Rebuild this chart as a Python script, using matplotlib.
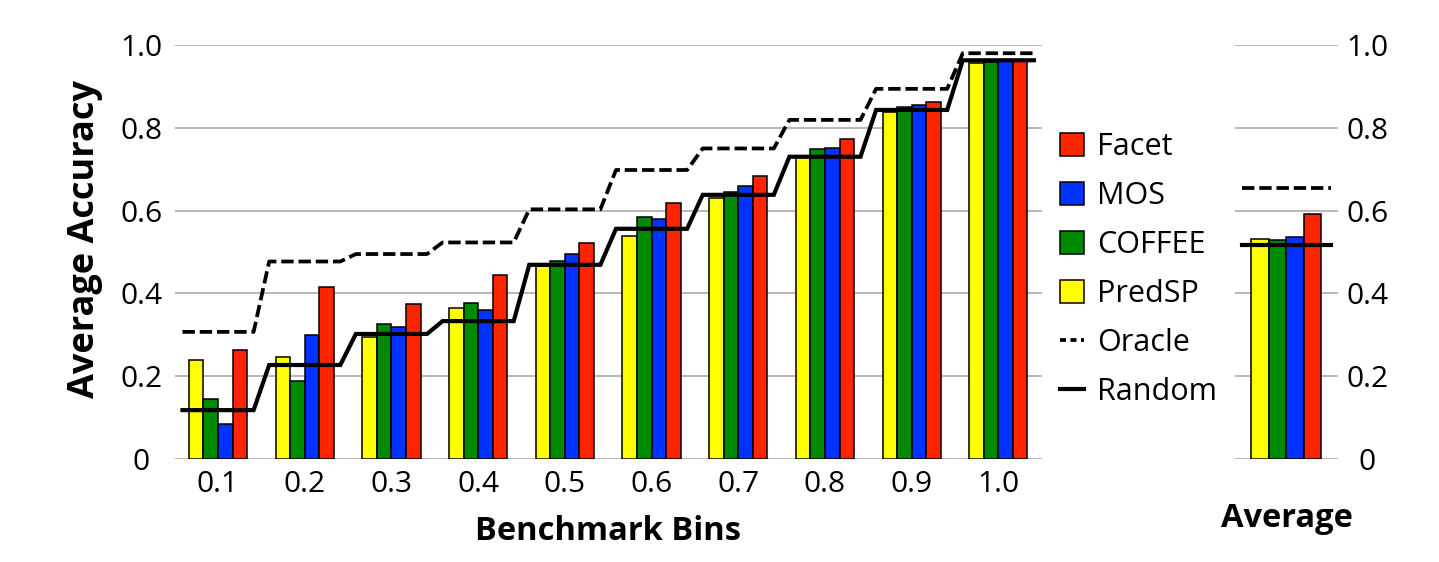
import matplotlib
matplotlib.use('Agg')
import matplotlib.pyplot as plt
import numpy as np
from matplotlib.patches import Patch
from matplotlib.lines import Line2D

plt.rcParams['font.family'] = ['Open Sans', 'DejaVu Sans']

# データ
bins = ['0.1', '0.2', '0.3', '0.4', '0.5', '0.6', '0.7', '0.8', '0.9', '1.0']
predsp = [0.239, 0.247, 0.294, 0.365, 0.466, 0.539, 0.631, 0.729, 0.839, 0.957]
coffee = [0.145, 0.189, 0.325, 0.376, 0.478, 0.585, 0.646, 0.749, 0.851, 0.960]
mos = [0.085, 0.300, 0.318, 0.361, 0.495, 0.580, 0.659, 0.750, 0.855, 0.964]
facet = [0.263, 0.416, 0.374, 0.444, 0.522, 0.619, 0.684, 0.773, 0.863, 0.964]
oracle = [0.307, 0.477, 0.495, 0.523, 0.603, 0.698, 0.750, 0.819, 0.894, 0.980]
random_ = [0.118, 0.227, 0.302, 0.333, 0.469, 0.556, 0.638, 0.730, 0.843, 0.963]

# 平均
avg_bars = [0.531, 0.530, 0.537, 0.592]   # PredSP, COFFEE, MOS, Facet
avg_oracle = 0.654
avg_random = 0.517

names = ['PredSP', 'COFFEE', 'MOS', 'Facet']
colors = ['#ffff00', '#008a00', '#0033ff', '#ff2400']
grid_c = '#a6a6a6'
fs = 21.5

fig = plt.figure(figsize=(14.39, 5.62), dpi=100)
ax = fig.add_axes([0.1214, 0.1833, 0.6025, 0.7367])
ax2 = fig.add_axes([0.8582, 0.1833, 0.0716, 0.7367])

x = np.arange(len(bins))
w = 0.168
series = [predsp, coffee, mos, facet]
for k, vals in enumerate(series):
    ax.bar(x + (k - 1.5) * w, vals, w, color=colors[k],
           edgecolor='black', linewidth=1.1, zorder=3)

# 階段状の線
half = 0.41
sx = np.column_stack([x - half, x + half]).ravel()
ax.plot(sx, np.repeat(random_, 2), color='black', lw=3, zorder=4,
        solid_joinstyle='miter')
ax.plot(sx, np.repeat(oracle, 2), color='black', lw=2.7, zorder=4,
        dashes=(3.3, 1.3))

ax.set_xlim(-0.5, len(bins) - 0.5)
ax.set_ylim(0, 1.0)
ax.set_yticks(np.arange(0, 1.01, 0.2))
ax.set_yticklabels(['0', '0.2', '0.4', '0.6', '0.8', '1.0'])
ax.set_xticks(x)
ax.set_xticklabels(bins)
ax.grid(axis='y', color=grid_c, lw=1.1, zorder=0)
ax.tick_params(axis='both', length=0, labelsize=fs)
ax.tick_params(axis='y', pad=24)
ax.tick_params(axis='x', pad=8)
for lab in ax.get_yticklabels():
    lab.set_horizontalalignment('center')
for s in ax.spines.values():
    s.set_visible(False)
ax.set_xlabel('Benchmark Bins', fontsize=23.5, fontweight='bold')
ax.xaxis.set_label_coords(0.5, -0.135)
ax.set_ylabel('Average Accuracy', fontsize=26, fontweight='bold')
ax.yaxis.set_label_coords(-0.083, 0.53)

# 平均パネル
wa = 0.17
for k in range(4):
    ax2.bar((k - 1.5) * wa, avg_bars[k], wa, color=colors[k],
            edgecolor='black', linewidth=1.1, zorder=3)
ax2.plot([-0.435, 0.435], [avg_random, avg_random], color='black', lw=3,
         zorder=4)
ax2.plot([-0.435, 0.435], [avg_oracle, avg_oracle], color='black', lw=2.7,
         zorder=4, dashes=(3.3, 1.3))
ax2.set_xlim(-0.5, 0.5)
ax2.set_ylim(0, 1.0)
ax2.set_yticks(np.arange(0, 1.01, 0.2))
ax2.set_yticklabels(['0', '0.2', '0.4', '0.6', '0.8', '1.0'])
ax2.yaxis.tick_right()
ax2.set_xticks([])
ax2.grid(axis='y', color=grid_c, lw=1.1, zorder=0)
ax2.tick_params(axis='both', length=0, labelsize=fs)
ax2.tick_params(axis='y', pad=21)
for lab in ax2.get_yticklabels():
    lab.set_horizontalalignment('center')
for s in ax2.spines.values():
    s.set_visible(False)
ax2.set_xlabel('Average', fontsize=23.5, fontweight='bold')
ax2.xaxis.set_label_coords(0.5, -0.105)

# 凡例
handles = [Patch(facecolor=colors[k], edgecolor='black', lw=1.1, label=names[k])
           for k in [3, 2, 1, 0]]
handles.append(Line2D([], [], color='black', lw=2.7, dashes=(1.6, 1.2),
                      label='Oracle'))
handles.append(Line2D([], [], color='black', lw=3, label='Random'))
fig.legend(handles=handles, loc='center left',
           bbox_to_anchor=(1060 / 1439, 0.52), frameon=False, fontsize=22,
           handlelength=0.8, handleheight=0.8, handletextpad=0.4,
           labelspacing=0.62, borderpad=0, borderaxespad=0)

fig.savefig('out.png', dpi=100)
